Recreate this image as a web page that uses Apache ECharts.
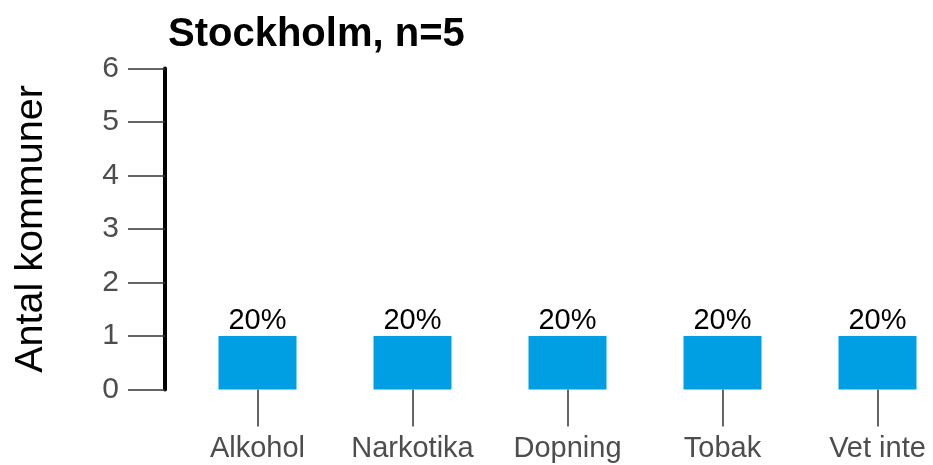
<!DOCTYPE html>
<html>
<head>
<meta charset="utf-8">
<script src="https://cdn.jsdelivr.net/npm/echarts@6/dist/echarts.min.js"></script>
<style>
  html, body { margin: 0; padding: 0; background: #fff; overflow: hidden; }
  /* the last category band runs past the visible page edge */
  #chart { width: 955px; height: 465px; }
</style>
</head>
<body>
<div id="chart"></div>
<script>
// Substances asked about, count of municipalities per answer, share labels
const categories = ['Alkohol', 'Narkotika', 'Dopning', 'Tobak', 'Vet inte'];
const counts = [1, 1, 1, 1, 1];
const shares = ['20%', '20%', '20%', '20%', '20%'];
const yTicks = [0, 1, 2, 3, 4, 5, 6];

const FONT = '"Liberation Sans", Arial, sans-serif';

const chart = echarts.init(document.getElementById('chart'), null, { renderer: 'canvas' });

chart.setOption({
  backgroundColor: '#ffffff',
  animation: false,
  title: {
    text: 'Stockholm, n=5',
    left: 163,
    top: 10,
    textStyle: { fontFamily: FONT, fontSize: 40, fontWeight: 'bold', color: '#000' }
  },
  grid: { left: 180, top: 68.5, right: 0, height: 321, containLabel: false },
  xAxis: {
    type: 'category',
    data: categories,
    axisLine: { show: false },
    axisTick: { show: true, alignWithLabel: true, length: 37, lineStyle: { color: '#333', width: 1.5 } },
    axisLabel: { interval: 0, margin: 45, fontFamily: FONT, fontSize: 29, color: '#4D4D4D' },
    splitLine: { show: false }
  },
  yAxis: {
    type: 'value',
    min: yTicks[0],
    max: yTicks[yTicks.length - 1],
    interval: 1,
    offset: 15,
    name: 'Antal kommuner',
    nameLocation: 'middle',
    nameGap: 114,
    nameTextStyle: { fontFamily: FONT, fontSize: 39.5, color: '#000' },
    axisLine: { show: true, lineStyle: { color: '#000', width: 4 } },
    axisTick: { show: true, length: 37, lineStyle: { color: '#333', width: 1.5 } },
    axisLabel: { margin: 46, fontFamily: FONT, fontSize: 30, color: '#4D4D4D' },
    splitLine: { show: false }
  },
  series: [{
    type: 'bar',
    data: counts,
    barWidth: 78,
    itemStyle: { color: '#009FE3' },
    label: {
      show: true,
      position: 'top',
      distance: 1,
      fontFamily: FONT,
      fontSize: 29,
      color: '#000',
      formatter: (p) => shares[p.dataIndex]
    }
  }]
});
</script>
</body>
</html>
